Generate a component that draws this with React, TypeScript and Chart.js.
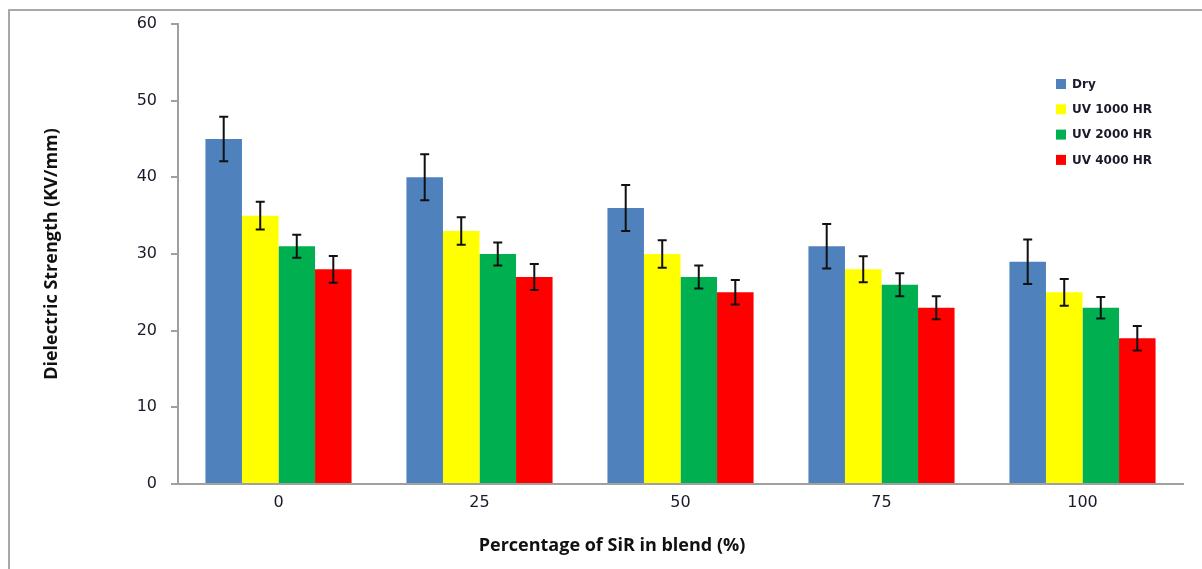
import React, { useEffect, useRef } from "react";
import { Chart, registerables } from "chart.js";

Chart.register(...registerables);

const categories = ["0", "25", "50", "75", "100"];
const seriesLabels = ["Dry", "UV 1000 HR", "UV 2000 HR", "UV 4000 HR"];
const seriesColors = ["#4F81BD", "#FFFF00", "#00B050", "#FF0000"];
const dryValues = [45, 40, 36, 31, 29];
const uv1000Values = [35, 33, 30, 28, 25];
const uv2000Values = [31, 30, 27, 26, 23];
const uv4000Values = [28, 27, 25, 23, 19];
const dryErrors = [2.9, 3, 3, 2.9, 2.9];
const uv1000Errors = [1.8, 1.8, 1.8, 1.7, 1.75];
const uv2000Errors = [1.5, 1.5, 1.5, 1.5, 1.4];
const uv4000Errors = [1.75, 1.7, 1.6, 1.5, 1.6];
const yMin = 0;
const yMax = 60;
const yStep = 10;
const yTitle = "Dielectric Strength (KV/mm)";
const xTitle = "Percentage of SiR in blend (%)";

const seriesValues = [dryValues, uv1000Values, uv2000Values, uv4000Values];
const seriesErrors = [dryErrors, uv1000Errors, uv2000Errors, uv4000Errors];

const framePlugin = {
  id: "frame",
  beforeDraw(chart: any) {
    const ctx = chart.ctx;
    ctx.save();
    ctx.strokeStyle = "#a8a8a8";
    ctx.lineWidth = 2;
    ctx.beginPath();
    ctx.moveTo(9, chart.height);
    ctx.lineTo(9, 10);
    ctx.lineTo(chart.width, 10);
    ctx.stroke();
    ctx.restore();
  },
};

const errorBarPlugin = {
  id: "errorBars",
  afterDatasetsDraw(chart: any) {
    const ctx = chart.ctx;
    const yScale = chart.scales.y;
    ctx.save();
    ctx.strokeStyle = "#111";
    ctx.lineWidth = 2;
    chart.data.datasets.forEach((ds: any, di: number) => {
      const meta = chart.getDatasetMeta(di);
      meta.data.forEach((el: any, i: number) => {
        const v = ds.data[i];
        const e = ds.errors[i];
        const yt = yScale.getPixelForValue(v + e);
        const yb = yScale.getPixelForValue(v - e);
        const x = el.x;
        ctx.beginPath();
        ctx.moveTo(x, yt);
        ctx.lineTo(x, yb);
        ctx.moveTo(x - 4.5, yt);
        ctx.lineTo(x + 4.5, yt);
        ctx.moveTo(x - 4.5, yb);
        ctx.lineTo(x + 4.5, yb);
        ctx.stroke();
      });
    });
    ctx.restore();
  },
};

const legendPlugin = {
  id: "insideLegend",
  afterDraw(chart: any) {
    const ctx = chart.ctx;
    ctx.save();
    ctx.font = "bold 12px 'DejaVu Sans'";
    ctx.textBaseline = "middle";
    ctx.textAlign = "left";
    chart.data.datasets.forEach((ds: any, i: number) => {
      const cy = 84 + i * 25.3;
      ctx.fillStyle = ds.backgroundColor;
      ctx.fillRect(1056, cy - 5, 10, 10);
      ctx.fillStyle = "#1a1a2a";
      ctx.fillText(ds.label, 1072, cy + 0.5);
    });
    ctx.restore();
  },
};

const xTitlePlugin = {
  id: "xTitle",
  afterDraw(chart: any) {
    const ctx = chart.ctx;
    ctx.save();
    ctx.font = "bold 18px 'Open Sans'";
    ctx.fillStyle = "#111";
    ctx.textAlign = "center";
    ctx.textBaseline = "middle";
    ctx.fillText(xTitle, 612, 546);
    ctx.restore();
  },
};

export default function App() {
  const canvasRef = useRef<HTMLCanvasElement | null>(null);

  useEffect(() => {
    document.body.style.margin = "0";
    const canvas = canvasRef.current;
    if (!canvas) return;
    const chart = new Chart(canvas, {
      type: "bar",
      data: {
        labels: categories,
        datasets: seriesLabels.map((label, i) => ({
          label,
          data: seriesValues[i],
          errors: seriesErrors[i],
          backgroundColor: seriesColors[i],
          borderWidth: 0,
          categoryPercentage: 0.727,
          barPercentage: 1,
        })) as any,
      },
      options: {
        responsive: false,
        animation: false,
        devicePixelRatio: 1,
        layout: { padding: { top: 24, right: 19, left: 0, bottom: 0 } },
        plugins: {
          legend: { display: false },
          tooltip: { enabled: false },
        },
        scales: {
          x: {
            grid: { display: false, drawTicks: false },
            border: { display: true, color: "#a0a0a0", width: 2 },
            ticks: {
              color: "#1a1a2a",
              font: { family: "DejaVu Sans", size: 16 },
              padding: 9,
            },
            afterFit: (s: any) => {
              s.height = 85;
            },
          },
          y: {
            min: yMin,
            max: yMax,
            ticks: {
              stepSize: yStep,
              color: "#1a1a2a",
              font: { family: "DejaVu Sans", size: 16 },
              padding: 14,
            },
            grid: {
              drawOnChartArea: false,
              drawTicks: true,
              tickLength: 7,
              color: "#a0a0a0",
              lineWidth: 2,
            },
            border: { display: true, color: "#a0a0a0", width: 2 },
            title: {
              display: true,
              text: yTitle,
              color: "#111",
              font: { family: "Open Sans", size: 18, weight: "bold" },
              padding: { top: 41, bottom: 0 },
            },
            afterFit: (s: any) => {
              s.width = 178;
            },
          },
        },
      },
      plugins: [framePlugin, errorBarPlugin, legendPlugin, xTitlePlugin],
    });
    return () => chart.destroy();
  }, []);

  return (
    <div style={{ width: 1202, height: 569, background: "#fff" }}>
      <canvas ref={canvasRef} width={1202} height={569} />
    </div>
  );
}
